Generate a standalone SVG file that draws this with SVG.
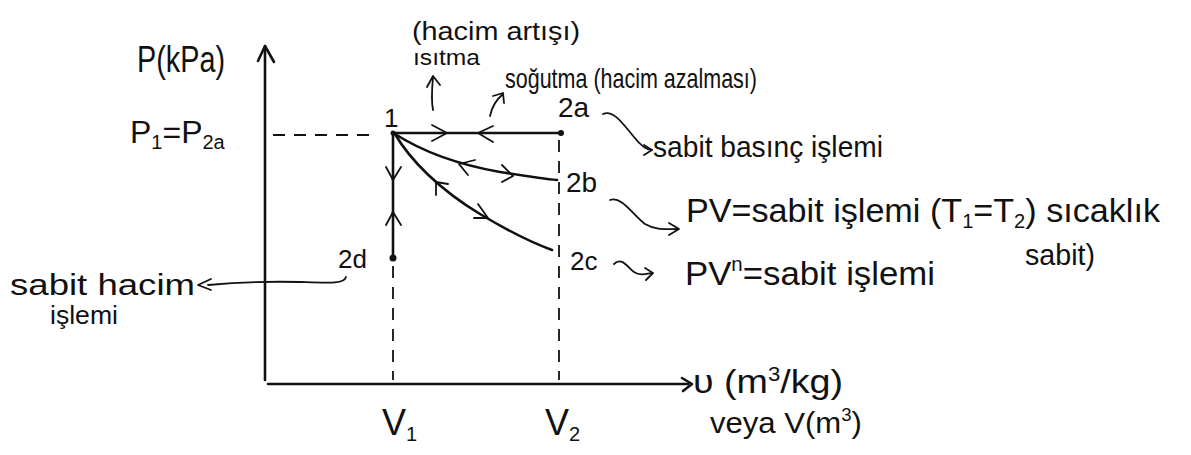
<svg xmlns="http://www.w3.org/2000/svg" width="1191" height="455" viewBox="0 0 1191 455">
<style>
text{font-family:"Liberation Sans","DejaVu Sans",sans-serif;fill:#111;}
.ln{fill:none;stroke:#111;stroke-width:2.6;stroke-linecap:round;stroke-linejoin:round;}
.th{fill:none;stroke:#111;stroke-width:1.8;stroke-linecap:round;stroke-linejoin:round;}
.ds{fill:none;stroke:#111;stroke-width:1.8;stroke-dasharray:12 9;}
.dot{fill:#111;}
</style>
<rect width="1191" height="455" fill="#fff"/>
<g id="connectors">
  <!-- axes -->
  <path class="ln" d="M265 380 L265 46"/>
  <path class="ln" d="M258 61 L265 46 L274 62"/>
  <path class="ln" d="M268 384 L688 384"/>
  <path class="ln" d="M682 378 L692 384 L683 391"/>
  <!-- dashed guides -->
  <path class="ds" d="M273 135 L372 135"/>
  <path class="ds" d="M559 140 L559 380"/>
  <path class="ds" d="M393 266 L393 380"/>
  <!-- processes -->
  <path class="ln" d="M393 133 L561 133"/>
  <path class="th" d="M432 125 L447 133 L432 141"/>
  <path class="th" d="M493 126 L478 133 L493 142"/>
  <path class="ln" d="M393 133 L393 258"/>
  <path class="th" d="M386 167 L393 180 L401 167"/>
  <path class="th" d="M386 225 L393 212 L401 225"/>
  <path class="ln" d="M395 134 C420 150 455 164 500 172 C525 176 545 179 557 180"/>
  <path class="th" d="M475 160 L459 164 L468 175"/>
  <path class="th" d="M502 165 L513 176 L502 182"/>
  <path class="ln" d="M395 134 C410 160 440 190 480 214 C505 229 530 242 552 250"/>
  <path class="th" d="M436 195 L436 182 L448 184"/>
  <path class="th" d="M478 204 L488 218 L474 218"/>
  <circle class="dot" cx="393" cy="133" r="2.5"/>
  <circle class="dot" cx="561" cy="133" r="3"/>
  <circle class="dot" cx="393" cy="258" r="3.5"/>
  <!-- annotation arrows -->
  <path class="th" d="M433 110 C431 100 432 88 433 77"/>
  <path class="th" d="M427 87 L433 76 L440 85"/>
  <path class="th" d="M490 116 C492 106 497 99 503 94"/>
  <path class="th" d="M493 96 L503 93 L504 103"/>
  <path class="th" d="M603 114 C613 109 623 124 634 137 C641 146 646 150 652 150"/>
  <path class="th" d="M644 145 L652 150 L644 155"/>
  <path class="th" d="M610 200 C622 196 632 214 645 224 C655 230 665 229 678 229"/>
  <path class="th" d="M669 223 L679 229 L669 235"/>
  <path class="th" d="M614 264 C622 256 628 268 634 272 C640 276 646 274 652 273"/>
  <path class="th" d="M645 268 L653 273 L646 280"/>
  <path class="th" d="M346 277 C344 284 330 283 300 282 C260 281 230 283 208 285"/>
  <path class="th" d="M211 279 L198 285 L211 290"/>
</g>
<g id="axis-labels">
  <text x="137" y="72" font-size="36" textLength="88" lengthAdjust="spacingAndGlyphs">P(kPa)</text>
  <text x="130" y="143" font-size="32">P<tspan font-size="20" dy="6">1</tspan><tspan dy="-6">=P</tspan><tspan font-size="20" dy="6">2a</tspan></text>
  <text x="693" y="393" font-size="34" textLength="150" lengthAdjust="spacingAndGlyphs">υ (m<tspan font-size="20" dy="-12">3</tspan><tspan dy="12">/kg)</tspan></text>
  <text x="710" y="433" font-size="30" textLength="152" lengthAdjust="spacingAndGlyphs">veya V(m<tspan font-size="18" dy="-12">3</tspan><tspan dy="12">)</tspan></text>
</g>
<g id="node-V1"><text x="382" y="435" font-size="36">V<tspan font-size="20" dy="6">1</tspan></text></g>
<g id="node-V2"><text x="545" y="435" font-size="36">V<tspan font-size="20" dy="6">2</tspan></text></g>
<g id="node-1"><text x="384" y="127" font-size="26">1</text></g>
<g id="node-2a"><text x="558" y="117" font-size="28">2a</text></g>
<g id="node-2b"><text x="566" y="192" font-size="28">2b</text></g>
<g id="node-2c"><text x="570" y="270" font-size="26">2c</text></g>
<g id="node-2d"><text x="338" y="268" font-size="26">2d</text></g>
<g id="label-heating">
  <text x="412" y="40" font-size="26" textLength="168" lengthAdjust="spacingAndGlyphs">(hacim artışı)</text>
  <text x="413" y="65" font-size="22" textLength="67" lengthAdjust="spacingAndGlyphs">ısıtma</text>
</g>
<g id="label-cooling"><text x="505" y="88" font-size="28" textLength="252" lengthAdjust="spacingAndGlyphs">soğutma (hacim azalması)</text></g>
<g id="label-2a"><text x="653" y="157" font-size="30" textLength="230" lengthAdjust="spacingAndGlyphs">sabit basınç işlemi</text></g>
<g id="label-2b">
  <text x="686" y="222" font-size="34" textLength="474" lengthAdjust="spacingAndGlyphs">PV=sabit işlemi (T<tspan font-size="20" dy="6">1</tspan><tspan dy="-6">=T</tspan><tspan font-size="20" dy="6">2</tspan><tspan dy="-6">) sıcaklık</tspan></text>
  <text x="1025" y="265" font-size="30" textLength="70" lengthAdjust="spacingAndGlyphs">sabit)</text>
</g>
<g id="label-2c"><text x="685" y="285" font-size="34" textLength="250" lengthAdjust="spacingAndGlyphs">PV<tspan font-size="20" dy="-14">n</tspan><tspan dy="14">=sabit işlemi</tspan></text></g>
<g id="label-2d">
  <text x="10" y="295" font-size="30" textLength="185" lengthAdjust="spacingAndGlyphs">sabit hacim</text>
  <text x="50" y="324" font-size="26" textLength="68" lengthAdjust="spacingAndGlyphs">işlemi</text>
</g>
</svg>
